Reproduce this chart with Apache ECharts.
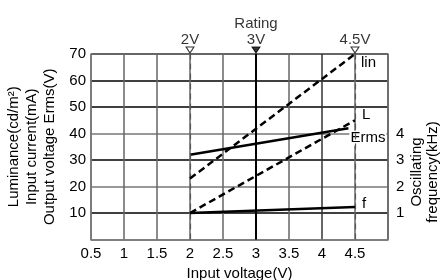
<!DOCTYPE html>
<html>
<head>
<meta charset="utf-8">
<script src="https://cdn.jsdelivr.net/npm/echarts@6/dist/echarts.min.js"></script>
<style>
    html, body { margin: 0; padding: 0; background: #fff; }
    #chart { width: 441px; height: 280px; }
</style>
</head>
<body>
<div id="chart"></div>
<script>
    // input voltage (V) at the two ends of each line
    var linData = [[2, 23], [4.5, 70]];
    var lData = [[2, 10], [4.5, 45]];
    var ermsData = [[2, 32], [4.4, 42]];
    var fData = [[2, 1], [4.5, 1.23]];     // kHz, right axis
    var markVolts = [2, 3, 4.5];
    var markLabels = ['2V', 'Rating\n3V', '4.5V'];
    var xTicks = [0.5, 1, 1.5, 2, 2.5, 3, 3.5, 4, 4.5];
    var leftTicks = [10, 20, 30, 40, 50, 60, 70];
    var rightTicks = [1, 2, 3, 4];

    var FONT = '"Liberation Sans", Arial, sans-serif';
    var chart = echarts.init(document.getElementById('chart'));

    var lineBase = function(name, data, dashed, offset, extra) {
        var s = {
            name: name,
            type: 'line',
            data: data,
            symbol: 'none',
            silent: true,
            lineStyle: {color: '#000', width: 2.5, type: dashed ? [7, 4] : 'solid'},
            endLabel: {
                show: true,
                formatter: '{a}',
                color: '#000',
                fontSize: 15,
                fontFamily: FONT,
                offset: offset
            },
            z: 5
        };
        if (extra) {
            for (var k in extra) s[k] = extra[k];
        }
        return s;
    };

    var option = {
        animation: false,
        textStyle: {fontFamily: FONT},
        grid: {left: 91, right: 53, top: 54, bottom: 40.5, containLabel: false, outerBoundsMode: 'none'},
        xAxis: {
            type: 'value',
            min: 0.5,
            max: 5,
            interval: 0.5,
            name: 'Input voltage(V)',
            nameLocation: 'middle',
            nameGap: 26,
            nameTextStyle: {color: '#000', fontSize: 15, fontFamily: FONT},
            axisLine: {show: true, lineStyle: {color: '#777', width: 1.5}},
            axisTick: {show: false},
            axisLabel: {
                color: '#000', fontSize: 15, fontFamily: FONT, margin: 7,
                formatter: function(v) { return xTicks.indexOf(v) >= 0 ? String(v) : ''; }
            },
            splitLine: {show: true, lineStyle: {color: ['#666', '#666', '#666', '#666', '#666', '#000', '#666', '#333', '#666', '#666'], width: 1.5}}
        },
        yAxis: [
            {
                type: 'value',
                min: 0,
                max: 70,
                interval: 10,
                name: 'Luminance(cd/m²)\nInput current(mA)\nOutput voltage Erms(V)',
                nameLocation: 'middle',
                nameRotate: 90,
                nameGap: 26,
                nameTextStyle: {color: '#000', fontSize: 15, fontFamily: FONT, lineHeight: 18},
                axisLine: {show: true, lineStyle: {color: '#777', width: 1.5}},
                axisTick: {show: false},
                axisLabel: {
                    color: '#000', fontSize: 15, fontFamily: FONT, margin: 5,
                    formatter: function(v) { return leftTicks.indexOf(v) >= 0 ? String(v) : ''; }
                },
                splitLine: {show: true, lineStyle: {color: ['#777', '#000', '#777', '#000', '#777', '#000', '#000', '#333'], width: 1.5}}
            },
            {
                type: 'value',
                min: 0,
                max: 7,
                interval: 1,
                position: 'right',
                axisLine: {show: true, lineStyle: {color: '#666', width: 1.5}},
                axisTick: {show: false},
                axisLabel: {
                    color: '#000', fontSize: 15, fontFamily: FONT, margin: 8,
                    formatter: function(v) { return rightTicks.indexOf(v) >= 0 ? String(v) : ''; }
                },
                splitLine: {show: false}
            }
        ],
        graphic: [
            {
                type: 'text',
                x: 425,
                y: 172,
                rotation: Math.PI / 2,
                style: {
                    text: 'Oscillating\nfrequency(kHz)',
                    fill: '#000',
                    font: '15px ' + FONT,
                    lineHeight: 16,
                    align: 'center',
                    verticalAlign: 'middle'
                }
            }
        ],
        series: [
            {
                name: 'marks',
                type: 'scatter',
                silent: true,
                data: markVolts.map(function(v, i) {
                    return {
                        value: [v, 70],
                        itemStyle: v === 3 ? {color: '#000', borderColor: '#000'} : {color: '#fff', borderColor: '#000', borderWidth: 1},
                        label: {formatter: markLabels[i]}
                    };
                }),
                symbol: 'triangle',
                symbolRotate: 180,
                symbolSize: [8, 6],
                symbolOffset: [0, -4],
                label: {
                    show: true,
                    position: 'top',
                    distance: -1,
                    color: '#000',
                    fontSize: 15,
                    fontFamily: FONT,
                    lineHeight: 16,
                    align: 'center'
                },
                markLine: {
                    silent: true,
                    symbol: 'none',
                    label: {show: false},
                    data: [
                        {xAxis: markVolts[0], lineStyle: {color: '#555', width: 1.2, type: [6, 4]}},
                        {xAxis: markVolts[1], lineStyle: {color: '#000', width: 2, type: 'solid'}},
                        {xAxis: markVolts[2], lineStyle: {color: '#555', width: 1.2, type: [6, 4]}}
                    ]
                },
                z: 6
            },
            lineBase('lin', linData, true, [-2, 9]),
            lineBase('L', lData, true, [-1, -5]),
            lineBase('Erms', ermsData, false, [-7, 10], {z: 4}),
            lineBase('f', fData, false, [-1, -3], {yAxisIndex: 1})
        ]
    };

    // white box behind the Erms label
    option.series[3].endLabel.backgroundColor = '#fff';
    option.series[3].endLabel.padding = [0, 1];

    chart.setOption(option);
</script>
</body>
</html>
